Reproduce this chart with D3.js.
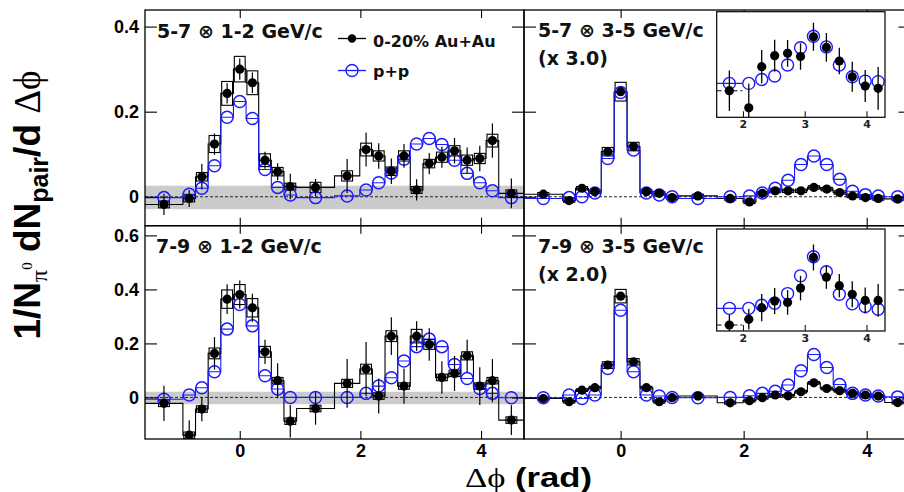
<!DOCTYPE html>
<html><head><meta charset="utf-8">
<script src="https://cdn.jsdelivr.net/npm/d3@7"></script>
<style>body{margin:0;background:#fff} svg{display:block}</style>
</head><body><svg id="c" width="904" height="492"></svg>
<script>
const PI = Math.PI;
// Δφ bins (rad)
const binCenters = [-1.2566,-0.8378,-0.6283,-0.4189,-0.2094,0,0.2094,0.4189,0.6283,0.8378,1.2566,1.7802,2.0944,2.3038,2.5133,2.7227,2.9322,3.1416,3.3510,3.5605,3.7699,3.9794,4.1888,4.5029];
const binWidths  = [0.6283,0.2094,0.2094,0.2094,0.2094,0.2094,0.2094,0.2094,0.2094,0.2094,0.6283,0.4189,0.2094,0.2094,0.2094,0.2094,0.2094,0.2094,0.2094,0.2094,0.2094,0.2094,0.2094,0.4189];
const xTicks = [0, 2, 4];
const yTicksTop = [0, 0.2, 0.4];
const yTicksBottom = [0, 0.2, 0.4, 0.6];
const insetTicks = [2, 3, 4];

// 5-7 x 1-2 GeV/c
const aa5712 = [-0.018,-0.004,0.047,0.124,0.243,0.300,0.268,0.086,0.059,0.024,0.022,0.049,0.111,0.096,0.060,0.096,0.016,0.078,0.093,0.108,0.086,0.090,0.132,0.008];
const aa5712Err = [0.025,0.02,0.03,0.025,0.024,0.025,0.024,0.02,0.02,0.03,0.02,0.04,0.04,0.03,0.03,0.028,0.025,0.025,0.025,0.03,0.03,0.03,0.04,0.035];
const aa5712Sys = [0.008,0.008,0.01,0.02,0.028,0.03,0.028,0.015,0.01,0.008,0.012,0.012,0.015,0.012,0.01,0.012,0.008,0.01,0.012,0.012,0.012,0.012,0.015,0.008];
const pp5712 = [-0.002,0.006,0.020,0.073,0.187,0.224,0.184,0.064,0.022,0.004,-0.002,0.002,0.016,0.033,0.056,0.088,0.124,0.137,0.123,0.086,0.055,0.033,0.014,-0.002];
const band5712 = [-0.029, 0.026];

// 5-7 x 3-5 GeV/c (x 3.0)
const aa5735 = [0.006,-0.009,0.020,0.012,0.106,0.247,0.118,0.012,0.008,-0.002,0.002,-0.004,-0.012,0.008,0.014,0.014,0.014,0.022,0.018,0.010,0.002,-0.002,-0.004,-0.005];
const aa5735Err = [0.006,0.006,0.006,0.006,0.01,0.01,0.01,0.006,0.006,0.006,0.006,0.006,0.006,0.006,0.006,0.006,0.006,0.006,0.006,0.006,0.006,0.006,0.006,0.006];
const aa5735Sys = [0.004,0.004,0.004,0.004,0.01,0.022,0.01,0.004,0.004,0.004,0.004,0.004,0.004,0.004,0.004,0.004,0.004,0.004,0.004,0.004,0.004,0.004,0.004,0.004];
const pp5735 = [-0.004,-0.002,0.000,0.009,0.090,0.245,0.110,0.009,0.004,0.000,-0.004,0.000,0.002,0.009,0.020,0.039,0.076,0.096,0.076,0.041,0.013,0.005,0.002,0.000];

// 7-9 x 1-2 GeV/c
const aa7912 = [-0.022,-0.140,-0.043,0.163,0.364,0.381,0.332,0.169,0.062,-0.088,-0.041,0.052,0.105,0.005,0.227,0.042,0.227,0.196,0.074,0.089,0.154,0.042,0.062,-0.084];
const aa7912Err = [0.065,0.055,0.045,0.06,0.055,0.052,0.052,0.045,0.065,0.06,0.06,0.09,0.10,0.065,0.07,0.065,0.055,0.06,0.06,0.065,0.06,0.07,0.08,0.055];
const aa7912Sys = [0.012,0.012,0.012,0.02,0.034,0.037,0.034,0.02,0.012,0.012,0.012,0.015,0.018,0.012,0.02,0.012,0.025,0.018,0.012,0.012,0.015,0.012,0.012,0.012];
const pp7912 = [-0.007,0.009,0.036,0.095,0.253,0.344,0.265,0.080,0.031,0.000,0.000,0.000,0.015,0.042,0.073,0.135,0.188,0.216,0.188,0.122,0.070,0.033,0.015,-0.001];
const band7912 = [-0.025, 0.021];

// 7-9 x 3-5 GeV/c (x 2.0)
const aa7935 = [-0.004,-0.016,0.027,0.036,0.120,0.375,0.132,0.036,-0.016,-0.001,0.005,-0.020,-0.012,-0.001,0.009,0.006,0.021,0.054,0.033,0.025,0.015,0.009,0.005,-0.019];
const aa7935Err = [0.008,0.008,0.008,0.008,0.012,0.012,0.012,0.008,0.008,0.008,0.008,0.008,0.008,0.008,0.008,0.008,0.008,0.008,0.008,0.008,0.008,0.008,0.008,0.008];
const aa7935Sys = [0.005,0.005,0.005,0.005,0.012,0.025,0.012,0.005,0.005,0.005,0.005,0.005,0.005,0.005,0.005,0.005,0.005,0.005,0.005,0.005,0.005,0.005,0.005,0.005];
const pp7935 = [-0.001,0.009,-0.004,0.009,0.107,0.323,0.095,0.009,0.005,0.000,-0.001,0.000,0.006,0.015,0.023,0.046,0.099,0.159,0.111,0.048,0.015,0.009,0.005,0.002];

// insets (away side, arbitrary units, p+p peak = 1)
const insetBins = binCenters.slice(11);
const insetWidths = binWidths.slice(11);
const inset5735pp = [0.137,0.137,0.21,0.275,0.48,0.805,1.02,0.82,0.48,0.26,0.18,0.17];
const inset5735aa = [0.0,-0.32,0.45,0.655,0.70,0.64,1.01,0.81,0.556,0.26,0.087,0.044];
const inset5735aaErr = [0.38,0.45,0.31,0.30,0.25,0.25,0.26,0.27,0.25,0.28,0.30,0.40];
const inset7935pp = [0.244,0.244,0.29,0.32,0.46,0.72,1.0,0.78,0.45,0.31,0.27,0.23];
const inset7935aa = [0.0,0.083,0.254,0.35,0.33,0.54,0.99,0.70,0.576,0.45,0.36,0.36];
const inset7935aaErr = [0.15,0.15,0.20,0.19,0.18,0.18,0.19,0.17,0.17,0.19,0.19,0.24];

const BLUE = '#1c1cff';
const TICKFONT = "'DejaVu Sans', sans-serif";
const SYMFONT = "'Liberation Serif', 'DejaVu Serif', serif";
const svg = d3.select('#c');
const defs = svg.append('defs');

function stepPath(x, y, centers, widths, vals) {
  const pts = [];
  centers.forEach((c, i) => { pts.push([c - widths[i]/2, vals[i]]); pts.push([c + widths[i]/2, vals[i]]); });
  return d3.line().x(d => x(d[0])).y(d => y(d[1]))(pts);
}

function panel(cfg) {
  const x = d3.scaleLinear().domain([-PI/2, 3*PI/2]).range([cfg.x0, cfg.x1]);
  const y = d3.scaleLinear().domain(cfg.yDom).range([cfg.y1, cfg.y0]);
  const cid = 'clip-' + cfg.id;
  defs.append('clipPath').attr('id', cid).append('rect')
    .attr('x', cfg.x0).attr('y', cfg.y0).attr('width', cfg.x1 - cfg.x0).attr('height', cfg.y1 - cfg.y0);
  const g = svg.append('g').attr('clip-path', `url(#${cid})`);
  if (cfg.band) {
    g.append('rect').attr('x', cfg.x0).attr('width', cfg.x1 - cfg.x0)
      .attr('y', y(cfg.band[1])).attr('height', y(cfg.band[0]) - y(cfg.band[1])).attr('fill', '#cbcbcb');
  }
  g.append('line').attr('x1', cfg.x0).attr('x2', cfg.x1).attr('y1', y(0)).attr('y2', y(0))
    .attr('stroke', '#222').attr('stroke-width', 1).attr('stroke-dasharray', '3,2');
  g.append('path').attr('d', stepPath(x, y, binCenters, binWidths, cfg.aa))
    .attr('fill', 'none').attr('stroke', '#000').attr('stroke-width', 1.1);
  g.append('path').attr('d', stepPath(x, y, binCenters, binWidths, cfg.pp))
    .attr('fill', 'none').attr('stroke', BLUE).attr('stroke-width', 1.1);
  // systematic boxes
  g.selectAll('rect.sys').data(binCenters).enter().append('rect').attr('class', 'sys')
    .attr('x', c => x(c - 0.09)).attr('width', c => x(c + 0.09) - x(c - 0.09))
    .attr('y', (c, i) => y(cfg.aa[i] + cfg.sys[i]))
    .attr('height', (c, i) => y(cfg.aa[i] - cfg.sys[i]) - y(cfg.aa[i] + cfg.sys[i]))
    .attr('fill', 'none').attr('stroke', '#000').attr('stroke-width', 1.1);
  // p+p open circles
  g.selectAll('circle.pp').data(binCenters).enter().append('circle').attr('class', 'pp')
    .attr('cx', c => x(c)).attr('cy', (c, i) => y(cfg.pp[i])).attr('r', 6)
    .attr('fill', 'none').attr('stroke', BLUE).attr('stroke-width', 1.5);
  // Au+Au error bars & points
  g.selectAll('line.err').data(binCenters).enter().append('line').attr('class', 'err')
    .attr('x1', c => x(c)).attr('x2', c => x(c))
    .attr('y1', (c, i) => y(cfg.aa[i] + cfg.err[i])).attr('y2', (c, i) => y(cfg.aa[i] - cfg.err[i]))
    .attr('stroke', '#000').attr('stroke-width', 1.2);
  g.selectAll('circle.aa').data(binCenters).enter().append('circle').attr('class', 'aa')
    .attr('cx', c => x(c)).attr('cy', (c, i) => y(cfg.aa[i])).attr('r', 4.6).attr('fill', '#000');

  // axes (ticks inward)
  const ax = svg.append('g').style('font-family', TICKFONT).style('font-weight', 'bold');
  const left = ax.append('g').attr('transform', `translate(${cfg.x0},0)`)
    .call(d3.axisLeft(y).tickValues(cfg.yTicks).tickSize(-12).tickPadding(6)
      .tickFormat(cfg.yLabels ? (d => d === 0 ? '0' : d3.format('.1f')(d)) : ''));
  const right = ax.append('g').attr('transform', `translate(${cfg.x1},0)`)
    .call(d3.axisRight(y).tickValues(cfg.yTicks).tickSize(-12).tickFormat(''));
  const bottom = ax.append('g').attr('transform', `translate(0,${cfg.y1})`)
    .call(d3.axisBottom(x).tickValues(xTicks).tickSize(-8).tickPadding(5)
      .tickFormat(cfg.xLabels ? d3.format('d') : ''));
  const top = ax.append('g').attr('transform', `translate(0,${cfg.y0})`)
    .call(d3.axisTop(x).tickValues(xTicks).tickSize(-8).tickFormat(''));
  [left, right, bottom, top].forEach(a => {
    a.select('.domain').remove();
    a.selectAll('line').attr('stroke', '#000').attr('stroke-width', 1.1);
    a.selectAll('text').attr('fill', '#000').style('font-size', '18px');
  });
  svg.append('rect').attr('x', cfg.x0).attr('y', cfg.y0).attr('width', cfg.x1 - cfg.x0).attr('height', cfg.y1 - cfg.y0)
    .attr('fill', 'none').attr('stroke', '#000').attr('stroke-width', 1.3);

  // labels
  const t = svg.append('g').style('font-family', TICKFONT).style('font-weight', 'bold').style('font-size', '19px').attr('fill', '#111');
  cfg.title.forEach((line, k) => {
    t.append('text').attr('x', cfg.tx).attr('y', cfg.ty + k * 28).text(line);
  });
  return { x, y };
}

function inset(cfg) {
  const x = d3.scaleLinear().domain([1.575, 4.30]).range([cfg.x0, cfg.x1]);
  const y = d3.scaleLinear().domain(cfg.yDom).range([cfg.y1, cfg.y0]);
  const cid = 'clip-' + cfg.id;
  defs.append('clipPath').attr('id', cid).append('rect')
    .attr('x', cfg.x0).attr('y', cfg.y0).attr('width', cfg.x1 - cfg.x0).attr('height', cfg.y1 - cfg.y0);
  svg.append('rect').attr('x', cfg.x0).attr('y', cfg.y0).attr('width', cfg.x1 - cfg.x0).attr('height', cfg.y1 - cfg.y0)
    .attr('fill', '#fff');
  const g = svg.append('g').attr('clip-path', `url(#${cid})`);
  // first (wide) bin horizontal extents
  g.append('line').attr('x1', x(insetBins[0] - insetWidths[0]/2)).attr('x2', x(insetBins[0] + insetWidths[0]/2))
    .attr('y1', y(cfg.pp[0])).attr('y2', y(cfg.pp[0])).attr('stroke', BLUE).attr('stroke-width', 1.1);
  g.append('line').attr('x1', x(insetBins[0] - insetWidths[0]/2)).attr('x2', x(insetBins[0] + insetWidths[0]/2))
    .attr('y1', y(cfg.aa[0])).attr('y2', y(cfg.aa[0])).attr('stroke', '#000').attr('stroke-width', 1.1)
    .attr('stroke-dasharray', '5,3');
  g.selectAll('circle.pp').data(insetBins).enter().append('circle').attr('class', 'pp')
    .attr('cx', c => x(c)).attr('cy', (c, i) => y(cfg.pp[i])).attr('r', 6)
    .attr('fill', 'none').attr('stroke', BLUE).attr('stroke-width', 1.4);
  g.selectAll('line.err').data(insetBins).enter().append('line').attr('class', 'err')
    .attr('x1', c => x(c)).attr('x2', c => x(c))
    .attr('y1', (c, i) => y(cfg.aa[i] + cfg.err[i])).attr('y2', (c, i) => y(cfg.aa[i] - cfg.err[i]))
    .attr('stroke', '#000').attr('stroke-width', 1.3);
  g.selectAll('circle.aa').data(insetBins).enter().append('circle').attr('class', 'aa')
    .attr('cx', c => x(c)).attr('cy', (c, i) => y(cfg.aa[i])).attr('r', 4.6).attr('fill', '#000');
  const ax = svg.append('g').attr('transform', `translate(0,${cfg.y1})`)
    .call(d3.axisBottom(x).tickValues(insetTicks).tickSize(-6).tickPadding(3).tickFormat(d3.format('d')));
  ax.select('.domain').remove();
  ax.selectAll('line').attr('stroke', '#000');
  ax.selectAll('text').attr('fill', '#222').style('font-family', TICKFONT).style('font-weight', 'bold').style('font-size', '11px');
  svg.append('rect').attr('x', cfg.x0).attr('y', cfg.y0).attr('width', cfg.x1 - cfg.x0).attr('height', cfg.y1 - cfg.y0)
    .attr('fill', 'none').attr('stroke', '#000').attr('stroke-width', 1.2);
}

panel({ id: 'tl', x0: 145, x1: 524, y0: 10, y1: 225.7, yDom: [-0.068, 0.439], yTicks: yTicksTop, yLabels: true, xLabels: false,
  aa: aa5712, err: aa5712Err, sys: aa5712Sys, pp: pp5712, band: band5712, title: ['5-7 \u2297 1-2 GeV/c'], tx: 157, ty: 38 });
panel({ id: 'tr', x0: 524, x1: 910.5, y0: 10, y1: 225.7, yDom: [-0.068, 0.439], yTicks: yTicksTop, yLabels: false, xLabels: false,
  aa: aa5735, err: aa5735Err, sys: aa5735Sys, pp: pp5735, band: null, title: ['5-7 \u2297 3-5 GeV/c', '(x 3.0)'], tx: 538, ty: 37 });
panel({ id: 'bl', x0: 145, x1: 524, y0: 225.7, y1: 439, yDom: [-0.154, 0.636], yTicks: yTicksBottom, yLabels: true, xLabels: true,
  aa: aa7912, err: aa7912Err, sys: aa7912Sys, pp: pp7912, band: band7912, title: ['7-9 \u2297 1-2 GeV/c'], tx: 156, ty: 253 });
panel({ id: 'br', x0: 524, x1: 910.5, y0: 225.7, y1: 439, yDom: [-0.154, 0.636], yTicks: yTicksBottom, yLabels: false, xLabels: true,
  aa: aa7935, err: aa7935Err, sys: aa7935Sys, pp: pp7935, band: null, title: ['7-9 \u2297 3-5 GeV/c', '(x 2.0)'], tx: 538, ty: 253 });

inset({ id: 'itr', x0: 716.7, x1: 885, y0: 11.7, y1: 117.3, yDom: [-0.498, 1.479], pp: inset5735pp, aa: inset5735aa, err: inset5735aaErr });
inset({ id: 'ibr', x0: 716.7, x1: 885, y0: 229, y1: 331, yDom: [-0.088, 1.406], pp: inset7935pp, aa: inset7935aa, err: inset7935aaErr });

// legend
const lg = svg.append('g').style('font-family', TICKFONT).style('font-weight', 'bold').style('font-size', '16px');
lg.append('line').attr('x1', 338).attr('x2', 366).attr('y1', 38.5).attr('y2', 38.5).attr('stroke', '#000').attr('stroke-width', 1.3);
lg.append('circle').attr('cx', 352).attr('cy', 38.5).attr('r', 4.2).attr('fill', '#000');
lg.append('text').attr('x', 373).attr('y', 46.5).attr('fill', '#111').text('0-20% Au+Au');
lg.append('line').attr('x1', 338).attr('x2', 366).attr('y1', 70.5).attr('y2', 70.5).attr('stroke', BLUE).attr('stroke-width', 1.3);
lg.append('circle').attr('cx', 352).attr('cy', 70.5).attr('r', 6).attr('fill', 'none').attr('stroke', BLUE).attr('stroke-width', 1.4);
lg.append('text').attr('x', 373).attr('y', 76.5).attr('fill', '#111').text('p+p');

// y axis title
const yt = svg.append('text').attr('transform', 'translate(40,205) rotate(-90)').attr('text-anchor', 'middle')
  .style('font-family', "'Liberation Sans', Arial, sans-serif").style('font-weight', 'bold').style('font-size', '37px').attr('fill', '#000');
yt.append('tspan').text('1/N');
yt.append('tspan').attr('dy', 7).style('font-size', '24px').style('font-family', SYMFONT).style('font-weight', 'normal').text('\u03c0');
yt.append('tspan').attr('dy', -15).style('font-size', '15px').style('font-family', SYMFONT).style('font-weight', 'normal').text('0');
yt.append('tspan').attr('dy', 8).text(' dN');
yt.append('tspan').attr('dy', 8).style('font-size', '25px').text('pair');
yt.append('tspan').attr('dy', -8).text('/d ');
yt.append('tspan').style('font-family', SYMFONT).style('font-weight', 'normal').text('\u0394\u03d5');

// x axis title
const xt = svg.append('text').attr('x', 465).attr('y', 487)
  .attr('textLength', 127).attr('lengthAdjust', 'spacingAndGlyphs')
  .style('font-family', "'Liberation Sans', Arial, sans-serif").style('font-weight', 'bold').style('font-size', '28px').attr('fill', '#000');
xt.append('tspan').style('font-family', SYMFONT).style('font-weight', 'normal').text('\u0394\u03d5');
xt.append('tspan').text(' (rad)');
</script>
</body></html>
